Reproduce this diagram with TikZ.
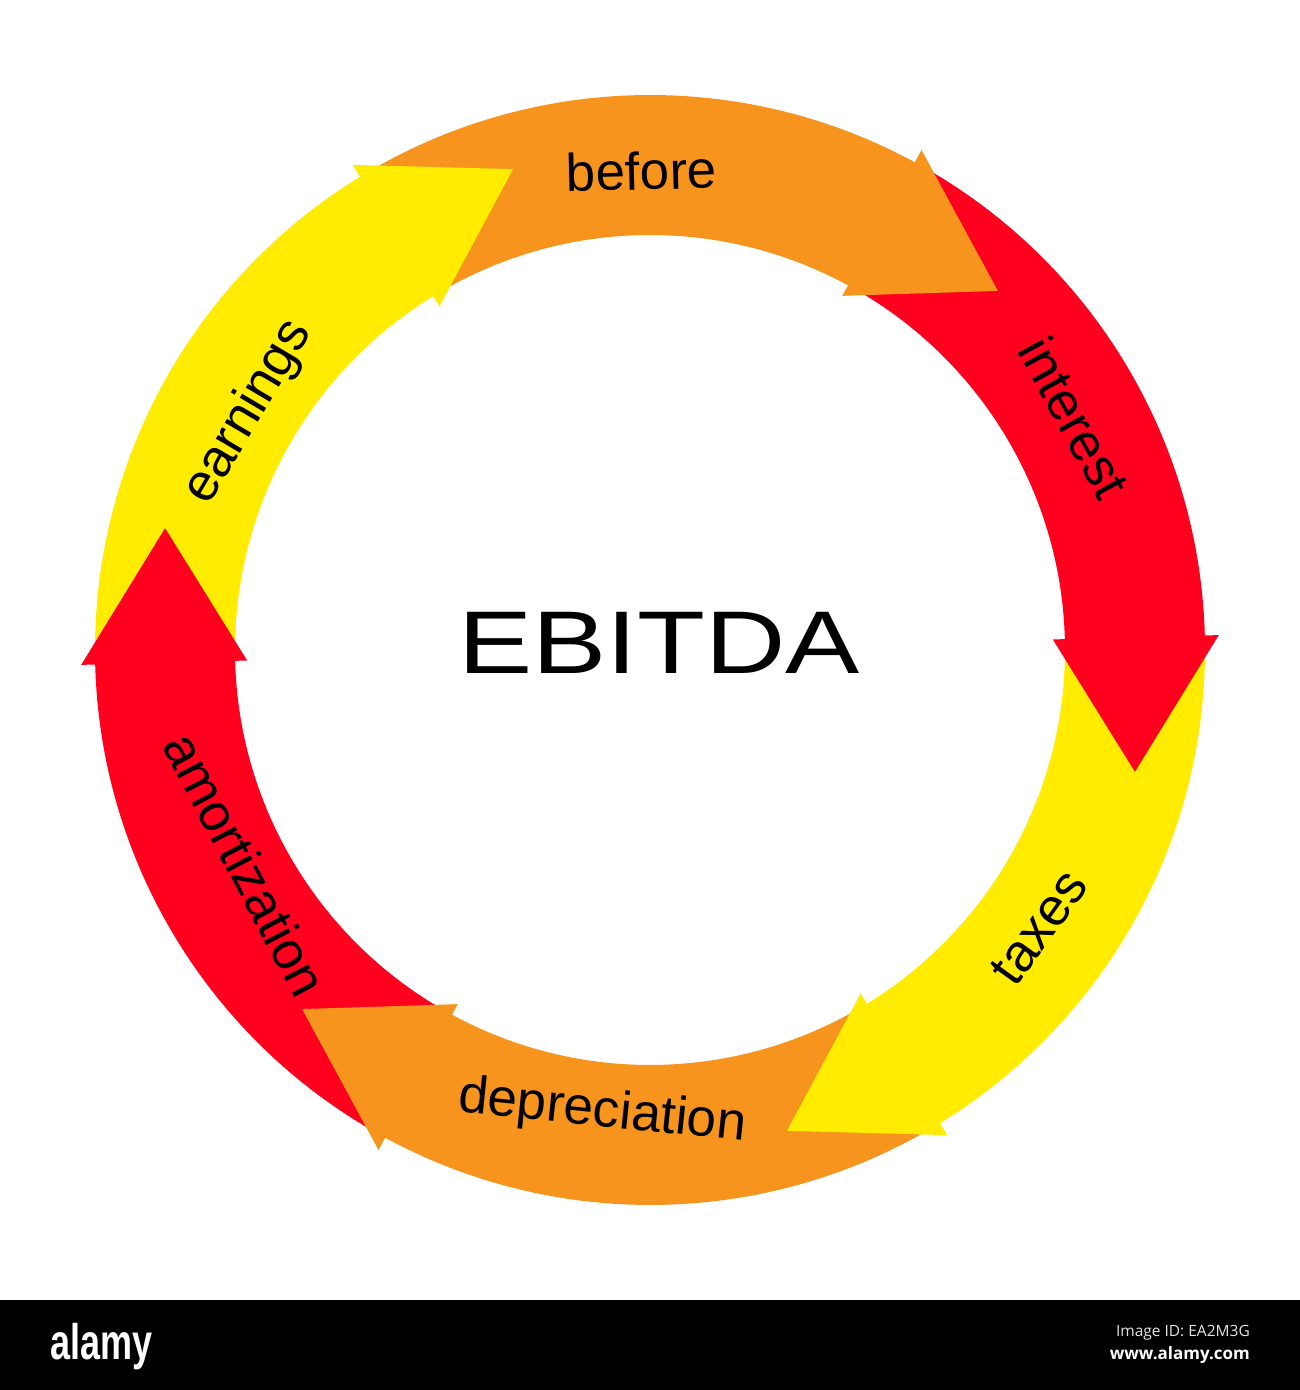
\documentclass[tikz,border=0pt]{standalone}
\usepackage{fontspec}
\setmainfont{Liberation Sans}
\newfontfamily\wmfont{Open Sans}
\definecolor{arrorange}{RGB}{247,148,30}
\definecolor{arrred}{RGB}{255,0,30}
\definecolor{arryellow}{RGB}{255,236,0}
\tikzset{
  lbl/.style={inner sep=0pt, text height=27.5pt, text depth=0pt, font=\fontsize{53}{60}\selectfont, text=black},
  title/.style={inner sep=0pt, font=\fontsize{89}{100}\selectfont, text=black, xscale=1.25},
}
\newcommand{\ringbody}[3]{% color, start angle, end angle
  \fill[#1] (#2:415) arc[start angle=#2, end angle=#3, radius=415] -- (#3:555) arc[start angle=#3, end angle=#2, radius=555] -- cycle;}
\newcommand{\ringhead}[2]{% color, base angle
  \fill[#1] (#2:403) -- (#2:569) -- ({#2-15.6}:500) -- cycle;}
\begin{document}
\begin{tikzpicture}[x=1pt,y=1pt]
\useasboundingbox (0,0) rectangle (1300,1390);
\fill[white] (0,0) rectangle (1300,1390);
\begin{scope}[shift={(650,740)}]
  % bodies: each starts just under the previous head and runs a little into its own head
  \ringbody{arryellow}{180.8}{120.2}
  \ringbody{arrorange}{120.8}{60.2}
  \ringbody{arrred}{60.8}{0.2}
  \ringbody{arryellow}{0.8}{-59.8}
  \ringbody{arrorange}{-59.2}{-119.8}
  \ringbody{arrred}{-119.2}{-179.8}
  % heads
  \ringhead{arryellow}{121.5}
  \ringhead{arrorange}{61.5}
  \ringhead{arrred}{1.5}
  \ringhead{arryellow}{-58.5}
  \ringhead{arrorange}{-118.5}
  \ringhead{arrred}{181.5}
  % labels
  \node[lbl, rotate=1.5] (before) at (91:474) {before};
  \node[lbl, rotate=-61.3] (interest) at (28.7:479) {interest};
  \node[lbl, rotate=54.3] (taxes) at (-35.5:481) {taxes};
  \node[lbl, rotate=-5.9] (depreciation) at (-95.9:465) {depreciation};
  \node[lbl, rotate=-62.3] (amortization) at (207.9:463) {amortization};
  \node[lbl, rotate=59.4] (earnings) at (149.4:467) {earnings};
  \node[title] (ebitda) at (9,7) {EBITDA};
\end{scope}
% bottom bar
\fill[black] (0,0) rectangle (1300,90);
\node[anchor=base west, inner sep=0pt, text=white, font=\fontsize{50}{50}\selectfont\bfseries, xscale=0.72] (logo) at (50,30) {alamy};
\node[anchor=base east, inner sep=0pt, text=white!90!black, font=\wmfont\fontsize{15.5}{18}\selectfont] (imgid) at (1250,53) {Image ID: EA2M3G};
\node[anchor=base east, inner sep=0pt, text=white, font=\wmfont\fontsize{17}{20}\selectfont\bfseries] (www) at (1250,30) {www.alamy.com};
\end{tikzpicture}
\end{document}
